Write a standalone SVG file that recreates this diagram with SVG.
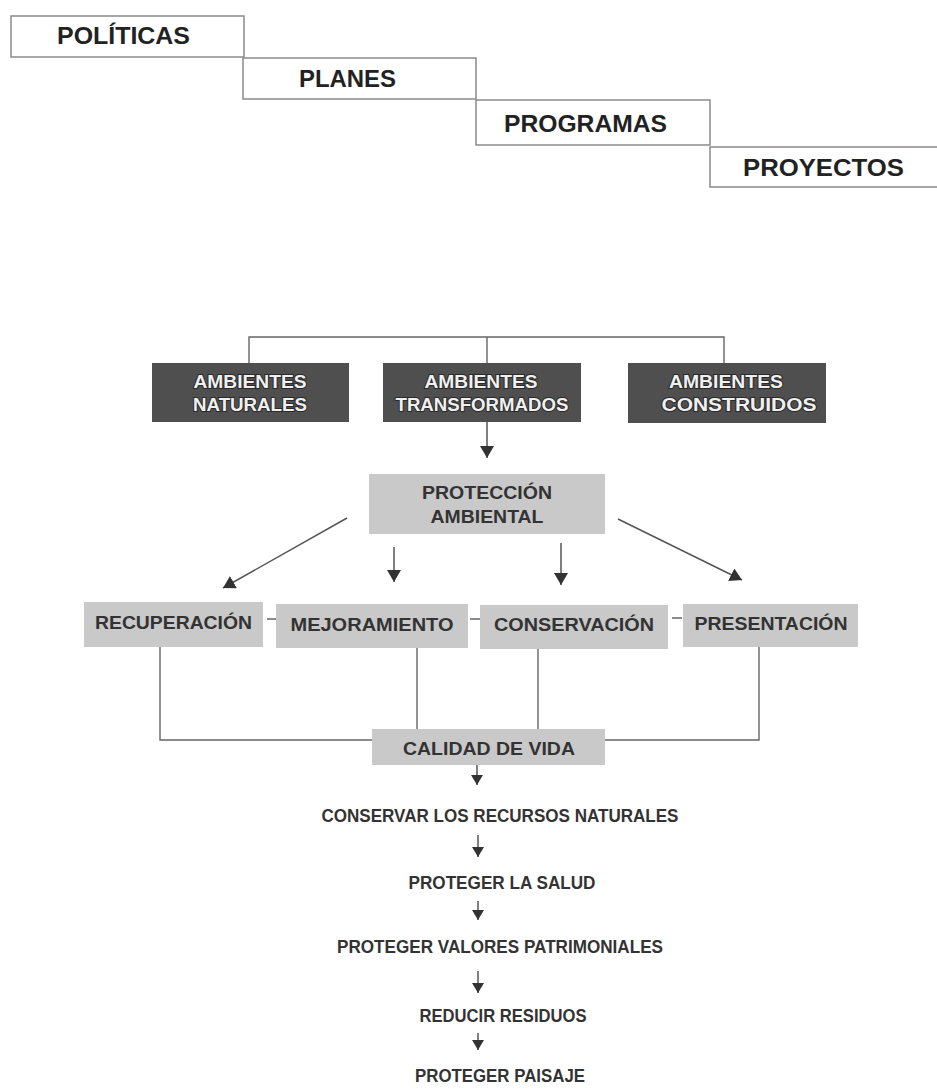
<svg xmlns="http://www.w3.org/2000/svg" width="937" height="1090" viewBox="0 0 937 1090">
<style>
.stair{fill:none;stroke:#8a8a8a;stroke-width:1.5}
.t24{font-family:"Liberation Sans",Arial,sans-serif;font-weight:bold;font-size:24px;fill:#222;text-anchor:middle}
.dark{fill:#4f4f4f}
.light{fill:#c9c9c9}
.wt{font-family:"Liberation Sans",Arial,sans-serif;font-weight:bold;font-size:18.5px;fill:#f0f0f0;stroke:#2a2a2a;stroke-width:2;paint-order:stroke;text-anchor:middle}
.bt{font-family:"Liberation Sans",Arial,sans-serif;font-weight:bold;font-size:19px;fill:#333;text-anchor:middle}
.lt{font-family:"Liberation Sans",Arial,sans-serif;font-weight:bold;font-size:18px;fill:#333;text-anchor:middle}
.ln{fill:none;stroke:#666;stroke-width:1.4}
.ar{fill:none;stroke:#555;stroke-width:1.5}
</style>
<defs>
<marker id="ah" viewBox="0 0 12 14" markerWidth="12" markerHeight="14" refX="12" refY="7" orient="auto" markerUnits="userSpaceOnUse">
<path d="M0,0 L12,7 L0,14 z" fill="#333"/>
</marker>
<marker id="ahs" viewBox="0 0 10 12" markerWidth="10" markerHeight="12" refX="10" refY="6" orient="auto" markerUnits="userSpaceOnUse">
<path d="M0,0 L10,6 L0,12 z" fill="#333"/>
</marker>
</defs>
<rect width="937" height="1090" fill="#fff"/>

<g id="politicas">
<rect class="stair" x="11" y="16" width="233" height="41"/>
<text class="t24" x="123.5" y="44" textLength="133" lengthAdjust="spacingAndGlyphs">POLÍTICAS</text>
</g>
<g id="planes">
<rect class="stair" x="243" y="58" width="233" height="41"/>
<text class="t24" x="347.5" y="87" textLength="97" lengthAdjust="spacingAndGlyphs">PLANES</text>
</g>
<g id="programas">
<rect class="stair" x="476" y="100" width="234" height="45"/>
<text class="t24" x="585.5" y="132" textLength="163" lengthAdjust="spacingAndGlyphs">PROGRAMAS</text>
</g>
<g id="proyectos">
<path class="stair" d="M940,147 H710 V187 H940"/>
<text class="t24" x="823.5" y="176" textLength="161" lengthAdjust="spacingAndGlyphs">PROYECTOS</text>
</g>

<g id="connectors">
<path class="ln" d="M249,363 V337 H724 V363 M487,337 V363"/>
<line class="ar" x1="487" y1="422" x2="487" y2="458" marker-end="url(#ah)"/>
<line class="ar" x1="347" y1="518" x2="223" y2="588" marker-end="url(#ah)"/>
<line class="ar" x1="394" y1="547" x2="394" y2="582" marker-end="url(#ah)"/>
<line class="ar" x1="561" y1="543" x2="561" y2="585" marker-end="url(#ah)"/>
<line class="ar" x1="618" y1="519" x2="742" y2="580" marker-end="url(#ah)"/>
<path class="ln" d="M267,619 H277 M470,619 H480 M672,618 H682"/>
<path class="ln" d="M160,647 V740 H372 M759,647 V740 H605 M417,648 V729 M538,649 V729"/>
<line class="ar" x1="477" y1="765" x2="477" y2="785" marker-end="url(#ahs)"/>
<line class="ar" x1="478" y1="835" x2="478" y2="857" marker-end="url(#ahs)"/>
<line class="ar" x1="478" y1="901" x2="478" y2="920" marker-end="url(#ahs)"/>
<line class="ar" x1="478" y1="971" x2="478" y2="993" marker-end="url(#ahs)"/>
<line class="ar" x1="478" y1="1033" x2="478" y2="1050" marker-end="url(#ahs)"/>
</g>

<g id="ambientes-naturales">
<rect class="dark" x="152" y="363" width="197" height="59"/>
<text class="wt" x="250" y="388" textLength="113" lengthAdjust="spacingAndGlyphs">AMBIENTES</text>
<text class="wt" x="250" y="411" textLength="114" lengthAdjust="spacingAndGlyphs">NATURALES</text>
</g>
<g id="ambientes-transformados">
<rect class="dark" x="383" y="363" width="198" height="59"/>
<text class="wt" x="481" y="388" textLength="113" lengthAdjust="spacingAndGlyphs">AMBIENTES</text>
<text class="wt" x="482" y="411" textLength="173" lengthAdjust="spacingAndGlyphs">TRANSFORMADOS</text>
</g>
<g id="ambientes-construidos">
<rect class="dark" x="628" y="363" width="198" height="60"/>
<text class="wt" x="726" y="388" textLength="114" lengthAdjust="spacingAndGlyphs">AMBIENTES</text>
<text class="wt" x="739" y="411" textLength="155" lengthAdjust="spacingAndGlyphs">CONSTRUIDOS</text>
</g>

<g id="proteccion-ambiental">
<rect class="light" x="369" y="474" width="236" height="60"/>
<text class="bt" x="487" y="499" textLength="130" lengthAdjust="spacingAndGlyphs">PROTECCIÓN</text>
<text class="bt" x="487" y="523" textLength="113" lengthAdjust="spacingAndGlyphs">AMBIENTAL</text>
</g>

<g id="recuperacion">
<rect class="light" x="84" y="602" width="179" height="45"/>
<text class="bt" x="173.5" y="629" textLength="157" lengthAdjust="spacingAndGlyphs">RECUPERACIÓN</text>
</g>
<g id="mejoramiento">
<rect class="light" x="276" y="604" width="192" height="44"/>
<text class="bt" x="372" y="631" textLength="163" lengthAdjust="spacingAndGlyphs">MEJORAMIENTO</text>
</g>
<g id="conservacion">
<rect class="light" x="480" y="605" width="188" height="44"/>
<text class="bt" x="574" y="631" textLength="160" lengthAdjust="spacingAndGlyphs">CONSERVACIÓN</text>
</g>
<g id="presentacion">
<rect class="light" x="683" y="604" width="175" height="43"/>
<text class="bt" x="771" y="630" textLength="153" lengthAdjust="spacingAndGlyphs">PRESENTACIÓN</text>
</g>

<g id="calidad-de-vida">
<rect class="light" x="372" y="729" width="233" height="36"/>
<text class="bt" x="489" y="755" textLength="172" lengthAdjust="spacingAndGlyphs">CALIDAD DE VIDA</text>
</g>

<g id="conservar-recursos">
<text class="lt" x="500" y="822" textLength="357" lengthAdjust="spacingAndGlyphs">CONSERVAR LOS RECURSOS NATURALES</text>
</g>
<g id="proteger-salud">
<text class="lt" x="502" y="889" textLength="187" lengthAdjust="spacingAndGlyphs">PROTEGER LA SALUD</text>
</g>
<g id="proteger-valores">
<text class="lt" x="500" y="953" textLength="326" lengthAdjust="spacingAndGlyphs">PROTEGER VALORES PATRIMONIALES</text>
</g>
<g id="reducir-residuos">
<text class="lt" x="503" y="1022" textLength="167" lengthAdjust="spacingAndGlyphs">REDUCIR RESIDUOS</text>
</g>
<g id="proteger-paisaje">
<text class="lt" x="500" y="1082" textLength="170" lengthAdjust="spacingAndGlyphs">PROTEGER PAISAJE</text>
</g>
</svg>
